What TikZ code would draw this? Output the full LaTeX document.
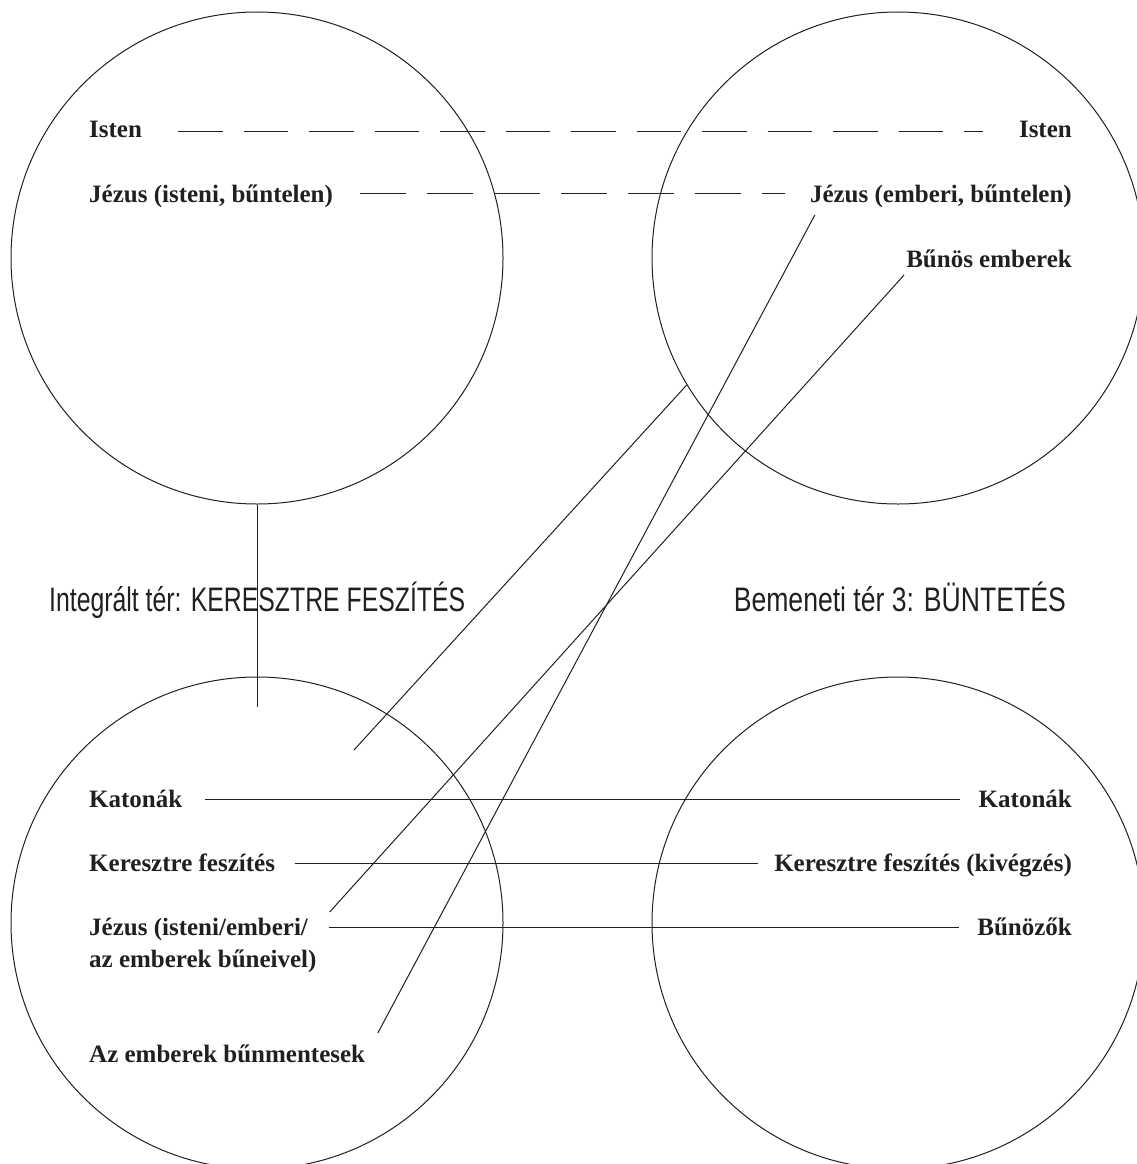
\documentclass[tikz,border=0pt]{standalone}
\usepackage{fontspec}
\setmainfont{Liberation Serif}
\newfontfamily\titlefont{Liberation Sans}
\usepackage{graphicx}
\definecolor{ink}{HTML}{231F20}
\begin{document}
\begin{tikzpicture}[x=1pt,y=-1pt,
  lab/.style={font=\bfseries\fontsize{25}{32}\selectfont, inner sep=0pt, text=ink},
  ttl/.style={font=\titlefont\fontsize{34}{40}\selectfont, inner sep=0pt, text=ink},
  ring/.style={circle, draw=ink, line width=1pt, minimum size=492pt, inner sep=0pt},
  conn/.style={draw=ink, line width=1pt},
  dashA/.style={conn, dash pattern=on 44.5pt off 21pt},
  dashB/.style={conn, dash pattern=on 45.5pt off 21.5pt}]
\useasboundingbox (0,0) rectangle (1137,1164);
\clip (0,0) rectangle (1137,1164);
% circles
\node[ring] (c1) at (257,258) {};
\node[ring] (c2) at (898,258) {};
\node[ring] (c3) at (257,923) {};
\node[ring] (c4) at (898,923) {};
% top labels
\node[lab, anchor=base west] (isL) at (89,137) {Isten};
\node[lab, anchor=base west] (jzL) at (89,202) {Jézus (isteni, bűntelen)};
\node[lab, anchor=base east] (isR) at (1072,137) {Isten};
\node[lab, anchor=base east] (jzR) at (1072,202) {Jézus (emberi, bűntelen)};
\node[lab, anchor=base east] (bnR) at (1072,267) {Bűnös emberek};
% titles
\node[ttl, anchor=base west] (tL) at (49,611) {\resizebox{416pt}{\height}{Integrált tér: KERESZTRE FESZÍTÉS}};
\node[ttl, anchor=base east] (tR) at (1066,611) {\resizebox{332pt}{\height}{Bemeneti tér 3: BÜNTETÉS}};
% bottom labels
\node[lab, anchor=base west] (kaL) at (89,807) {Katonák};
\node[lab, anchor=base west] (kfL) at (89,871) {Keresztre feszítés};
\node[lab, anchor=base west, align=left] (jzB) at (89,967) {Jézus (isteni/emberi/\\az emberek bűneivel)};
\node[lab, anchor=base west] (bmL) at (89,1062) {Az emberek bűnmentesek};
\node[lab, anchor=base east] (kaR) at (1072,807) {Katonák};
\node[lab, anchor=base east] (kfR) at (1072,871) {Keresztre feszítés (kivégzés)};
\node[lab, anchor=base east] (bzR) at (1072,935) {Bűnözők};
% free ends
\coordinate (aend) at (354,750);
\coordinate (vend) at (257,707);
% connectors
\draw[dashA, shorten <=36pt, shorten >=36pt] ([yshift=6pt]isL.base east) -- ([yshift=6pt]isR.base west);
\draw[dashB, shorten <=27pt, shorten >=25pt] ([yshift=8.5pt]jzL.base east) -- ([yshift=8.5pt]jzR.base west);
\draw[conn, shorten <=23pt, shorten >=19pt] ([yshift=7.5pt]kaL.base east) -- ([yshift=7.5pt]kaR.base west);
\draw[conn, shorten <=19.5pt, shorten >=16.5pt] ([yshift=7.5pt]kfL.base east) -- ([yshift=7.5pt]kfR.base west);
\draw[conn, shorten <=12pt, shorten >=18.5pt] ([yshift=39.5pt]jzB.base east) -- ([yshift=7.5pt]bzR.base west);
\draw[conn] ([xshift=5pt,yshift=-13pt]jzR.base west) -- ([xshift=12.5pt,yshift=29pt]bmL.base east);
\draw[conn] ([xshift=-2pt,yshift=-8pt]bnR.base west) -- ([xshift=13pt,yshift=55pt]jzB.base east);
\draw[conn] (c2.211) -- (aend);
\draw[conn] (c1.south) -- (vend);
\end{tikzpicture}
\end{document}
